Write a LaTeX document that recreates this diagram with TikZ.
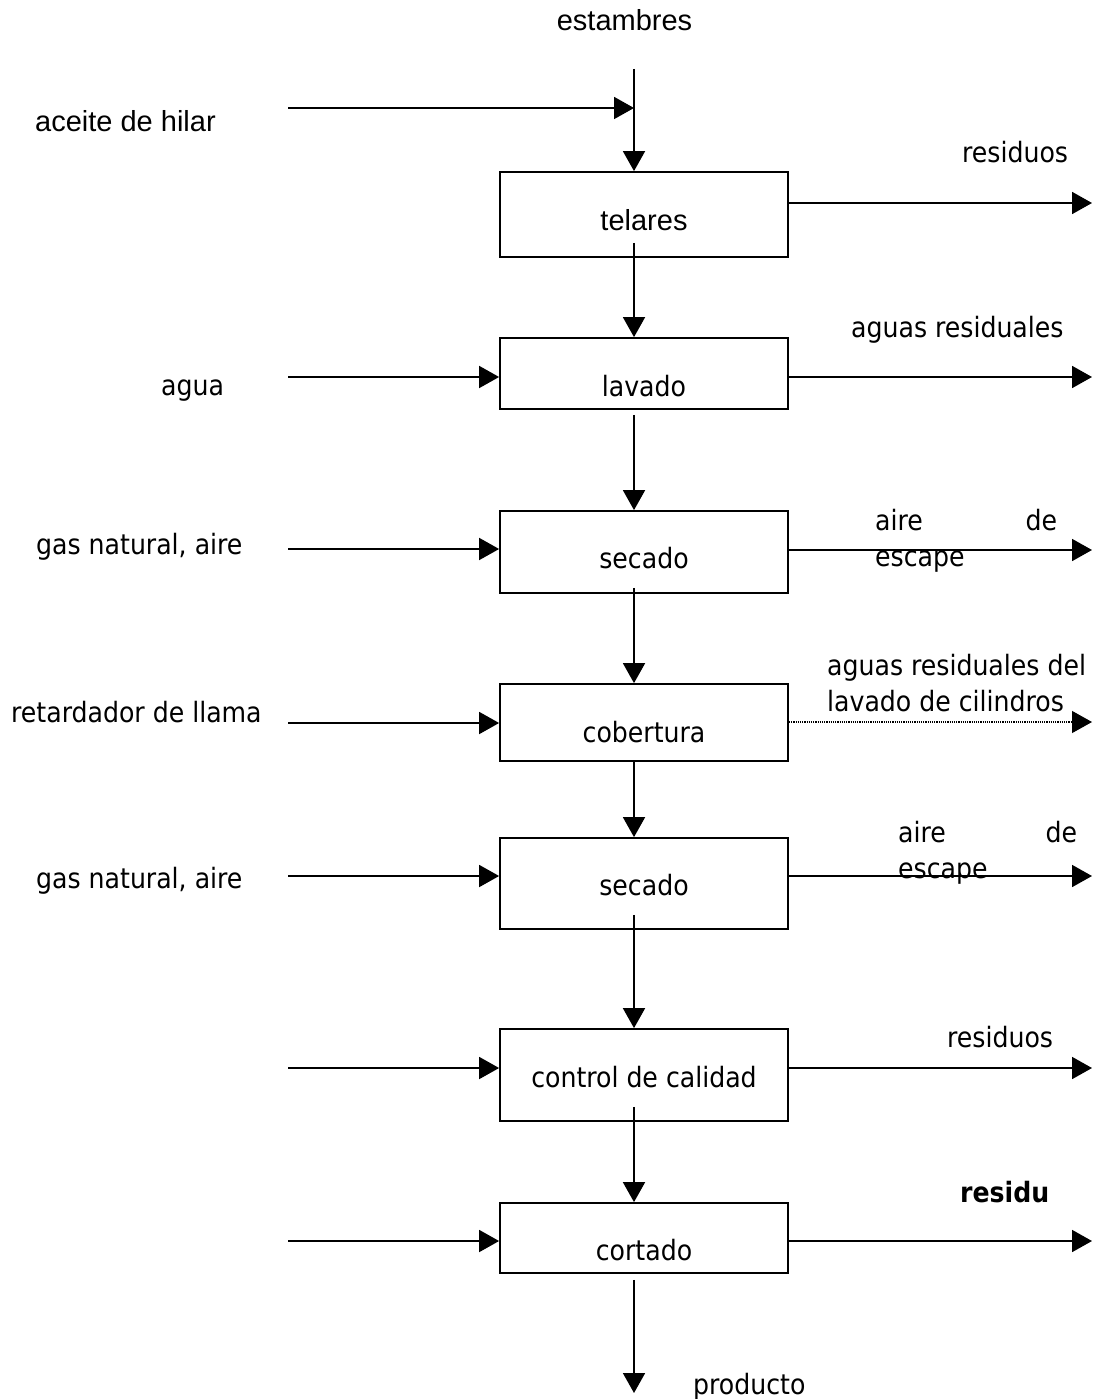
\documentclass[tikz,border=0pt]{standalone}
\usepackage{fontspec}
\setmainfont{Liberation Sans}
\newfontfamily\tahoma{DejaVu Sans Condensed}
\usepackage{tikz}
\usetikzlibrary{arrows.meta, positioning}

\begin{document}
\begin{tikzpicture}[
    x=1pt, y=-1pt,
    proc/.style={draw, line width=1.8pt, minimum width=288pt, inner sep=0pt},
    flow/.style={line width=1.8pt, -{Triangle[length=20pt,width=22pt]}},
    waste/.style={line width=1.2pt, densely dotted, -{Triangle[length=20pt,width=22pt]}},
    ar/.style={font=\fontsize{29}{34}\selectfont, inner sep=0pt, anchor=base},
    tx/.style={font=\tahoma\fontsize{28}{36}\selectfont, inner sep=0pt, anchor=base west},
    txc/.style={tx, anchor=base}
]
\useasboundingbox (0,0) rectangle (1093,1399);

% process boxes
\node[proc, minimum height=85pt] (telares) at (644,214.5) {};
\node[proc, minimum height=71pt] (lavado) at (644,373.5) {};
\node[proc, minimum height=82pt] (secado) at (644,552) {};
\node[proc, minimum height=77pt] (cobertura) at (644,722.5) {};
\node[proc, minimum height=91pt] (secadob) at (644,883.5) {};
\node[proc, minimum height=92pt] (control) at (644,1075) {};
\node[proc, minimum height=70pt] (cortado) at (644,1238) {};

\node[ar] (telares text) at (644,230) {telares};
\node[txc] (lavado text) at (644,396) {lavado};
\node[txc] (secado text) at (644,568) {secado};
\node[txc] (cobertura text) at (644,742) {cobertura};
\node[txc] (secadob text) at (644,895) {secado};
\node[txc] (control text) at (644,1087) {control de calidad};
\node[txc] (cortado text) at (644,1260) {cortado};

% main line
\coordinate (spine) at (634,0);
\coordinate (start) at (634,69);
\coordinate (end) at (634,1393);
\node[ar] (estambres) at (624.5,31) {estambres};
\draw[flow] (start) -- (telares.north -| spine);
\draw[flow] ([yshift=15pt]telares.south -| spine) -- (lavado.north -| spine);
\draw[flow] ([yshift=-5pt]lavado.south -| spine) -- (secado.north -| spine);
\draw[flow] ([yshift=6pt]secado.south -| spine) -- (cobertura.north -| spine);
\draw[flow] (cobertura.south -| spine) -- (secadob.north -| spine);
\draw[flow] ([yshift=15pt]secadob.south -| spine) -- (control.north -| spine);
\draw[flow] ([yshift=15pt]control.south -| spine) -- (cortado.north -| spine);
\draw[flow] ([yshift=-6pt]cortado.south -| spine) -- (end);
\node[tx] (producto) at (693,1394) {producto};

% inputs
\node[ar, anchor=base west] (aceite) at (35,132) {aceite de hilar};
\coordinate (in0) at (288,108);
\draw[flow] (in0) -- (in0 -| spine);

\node[tx] (agua) at (161,395) {agua};
\node[tx] (gas) at (36,554) {gas natural, aire};
\node[tx] (retardador) at (11,722) {retardador de llama};
\node[tx] (gasb) at (36,888) {gas natural, aire};
\coordinate (in1) at (288,377);
\coordinate (in2) at (288,549);
\coordinate (in3) at (288,723);
\coordinate (in4) at (288,876);
\coordinate (in5) at (288,1068);
\coordinate (in6) at (288,1241);
\draw[flow] (in1) -- (in1 -| lavado.west);
\draw[flow] (in2) -- (in2 -| secado.west);
\draw[flow] (in3) -- (in3 -| cobertura.west);
\draw[flow] (in4) -- (in4 -| secadob.west);
\draw[flow] (in5) -- (in5 -| control.west);
\draw[flow] (in6) -- (in6 -| cortado.west);

% outputs
\coordinate (out0) at (1092,203);
\coordinate (out1) at (1092,377);
\coordinate (out2) at (1092,550);
\coordinate (out3) at (1092,722);
\coordinate (out4) at (1092,876);
\coordinate (out5) at (1092,1068);
\coordinate (out6) at (1092,1241);
\draw[flow] (out0 -| telares.east) -- (out0);
\draw[flow] (out1 -| lavado.east) -- (out1);
\draw[flow] (out2 -| secado.east) -- (out2);
\draw[waste] (out3 -| cobertura.east) -- (out3);
\draw[flow] (out4 -| secadob.east) -- (out4);
\draw[flow] (out5 -| control.east) -- (out5);
\draw[flow] (out6 -| cortado.east) -- (out6);

\node[tx] (residuos) at (962,163) {residuos};
\node[tx] (aguas) at (851,337) {aguas residuales};
\node[tx, text width=182pt, align=left] (escape) at (875,530) {aire\hfill de\\escape};
\node[tx, align=left] (cilindros) at (827,711) {aguas residuales del\\lavado de cilindros};
\node[tx, text width=179pt, align=left] (escapeb) at (898,842) {aire\hfill de\\escape};
\node[tx] (residuosb) at (947,1047) {residuos};
\node[tx, font=\tahoma\bfseries\fontsize{28}{36}\selectfont] (residu) at (960,1202) {residu};
\end{tikzpicture}
\end{document}
